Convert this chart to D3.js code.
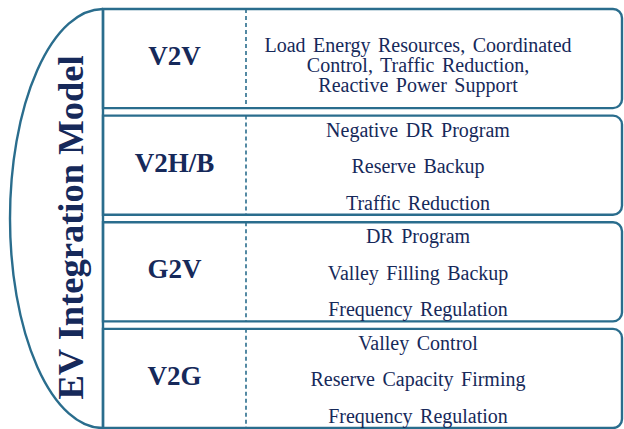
<!DOCTYPE html>
<html>
<head>
<meta charset="utf-8">
<script src="https://cdn.jsdelivr.net/npm/d3@7"></script>
<style>
  html, body { margin: 0; padding: 0; background: #fff; }
  svg { display: block; }
</style>
</head>
<body>
<svg id="chart"></svg>
<script>
// EV integration model - data
var title = "EV Integration Model";
var modes = ["V2V", "V2H/B", "G2V", "V2G"];
// each service is a list of text lines (V2V has one long item wrapped)
var services = [
    [["Load Energy Resources, Coordinated", "Control, Traffic Reduction,", "Reactive Power Support"]],
    [["Negative DR Program"], ["Reserve Backup"], ["Traffic Reduction"]],
    [["DR Program"], ["Valley Filling Backup"], ["Frequency Regulation"]],
    [["Valley Control"], ["Reserve Capacity Firming"], ["Frequency Regulation"]]
];

var width = 624,
    height = 429;

var lineColor = "#2a6d8d",
    textColor = "#16295a",
    serif = "'Liberation Serif'";

var svg = d3.select("#chart")
    .attr("width", width)
    .attr("height", height);

var left = 103,     // left edge of the rows
    divX = 246,     // dashed divider
    right = 622,
    radius = 9;

var y = d3.scaleBand()
    .domain(modes)
    .range([9, 428])
    .paddingInner(0.07);

// Left rounded "bracket" holding the title
svg.append("path")
    .attr("d", "M" + left + "," + y.range()[0] +
        " A" + (left - 10) + "," + ((y.range()[1] - y.range()[0]) / 2) + " 0 0 0 " + left + "," + y.range()[1])
    .attr("fill", "none")
    .attr("stroke", lineColor)
    .attr("stroke-width", 2.4);

svg.append("line")
    .attr("x1", left).attr("x2", left)
    .attr("y1", y.range()[0]).attr("y2", y.range()[1])
    .attr("stroke", lineColor)
    .attr("stroke-width", 2.4);

svg.append("text")
    .attr("transform", "translate(83," + 227.5 + ") rotate(-90)")
    .attr("text-anchor", "middle")
    .style("font-family", serif)
    .attr("font-weight", "bold")
    .attr("font-size", 36.5)
    .attr("fill", textColor)
    .text(title);

// Rows
function rowPath(top, bottom) {
    return "M" + left + "," + top +
        " H" + (right - radius) +
        " A" + radius + "," + radius + " 0 0 1 " + right + "," + (top + radius) +
        " V" + (bottom - radius) +
        " A" + radius + "," + radius + " 0 0 1 " + (right - radius) + "," + bottom +
        " H" + left + " Z";
}

var row = svg.selectAll("g.row")
    .data(modes)
    .enter().append("g")
    .attr("class", "row");

row.append("path")
    .attr("d", function (d) { return rowPath(y(d), y(d) + y.bandwidth()); })
    .attr("fill", "none")
    .attr("stroke", lineColor)
    .attr("stroke-width", 2.4);

row.append("line")
    .attr("x1", divX).attr("x2", divX)
    .attr("y1", function (d) { return y(d); })
    .attr("y2", function (d) { return y(d) + y.bandwidth(); })
    .attr("stroke", lineColor)
    .attr("stroke-width", 1.6)
    .attr("stroke-dasharray", "4,3");

row.append("text")
    .attr("x", (left + divX) / 2)
    .attr("y", function (d) { return y(d) + 56; })
    .attr("text-anchor", "middle")
    .style("font-family", serif)
    .attr("font-weight", "bold")
    .attr("font-size", 27)
    .attr("fill", textColor)
    .text(function (d) { return d; });

// Services in the right cell
var textX = 418;
row.each(function (d, i) {
    var g = d3.select(this),
        top = y(d),
        items = services[i],
        lines = [];
    items.forEach(function (item, k) {
        item.forEach(function (t, j) {
            var base = items.length === 1 ? top + 43 + j * 20 : top + 21 + k * 36.5;
            lines.push({ text: t, y: base });
        });
    });
    g.selectAll("text.svc")
        .data(lines)
        .enter().append("text")
        .attr("class", "svc")
        .attr("x", textX)
        .attr("y", function (l) { return l.y; })
        .attr("text-anchor", "middle")
        .style("font-family", serif)
        .attr("font-size", 20)
        .style("word-spacing", "2.5px")
        .attr("fill", textColor)
        .text(function (l) { return l.text; });
});
</script>
</body>
</html>
